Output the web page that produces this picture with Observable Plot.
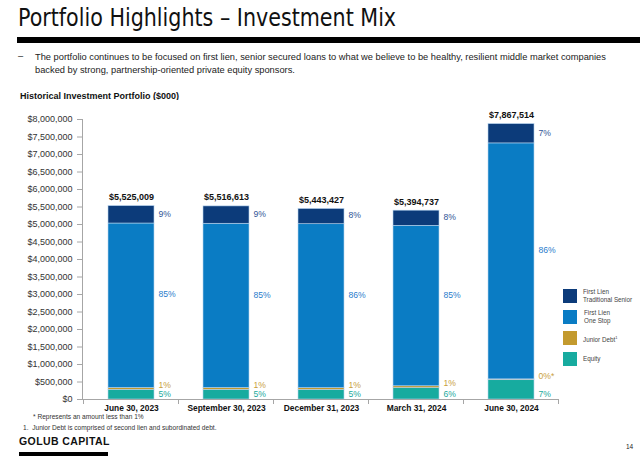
<!DOCTYPE html>
<html><head><meta charset="utf-8">
<script src="https://cdn.jsdelivr.net/npm/d3@7"></script>
<script src="https://cdn.jsdelivr.net/npm/@observablehq/plot@0.6"></script>
<style>
body{margin:0;background:#fff;}
#page{position:relative;width:640px;height:462px;overflow:hidden;font-family:"Liberation Sans",Arial,sans-serif;color:#222;}
.abs{position:absolute;white-space:nowrap;}
#chart{position:absolute;left:0;top:100px;}
.sw{position:absolute;width:14px;height:14px;}
.lg{position:absolute;font-size:6.3px;line-height:8px;color:#444;}
</style></head><body><div id="page">
<div class="abs" style="left:18px;top:2px;font-family:'Liberation Sans Narrow','DejaVu Sans Condensed',sans-serif;font-size:25.5px;color:#111;transform:scaleX(0.9);transform-origin:0 0;">Portfolio Highlights – Investment Mix</div>
<div class="abs" style="left:17px;top:37px;width:623px;height:6px;background:#000"></div>
<div class="abs" style="left:18px;top:51px;font-size:9.3px;color:#222;">–</div>
<div class="abs" style="left:35px;top:51px;font-size:9.3px;line-height:12.5px;color:#222;">The portfolio continues to be focused on first lien, senior secured loans to what we believe to be healthy, resilient middle market companies<br>backed by strong, partnership-oriented private equity sponsors.</div>
<div class="abs" style="left:20px;top:91px;font-size:9px;font-weight:bold;color:#111;">Historical Investment Portfolio ($000)</div>
<div id="chart"></div>
<div class="sw" style="left:563px;top:289px;background:#0c3b7a"></div>
<div class="lg" style="left:583px;top:288px;">First Lien<br>Traditional Senior</div>
<div class="sw" style="left:563px;top:310px;background:#0a7cc4"></div>
<div class="lg" style="left:584px;top:309px;">First Lien<br>One Stop</div>
<div class="sw" style="left:563px;top:331px;background:#c39a2e"></div>
<div class="lg" style="left:583px;top:334px;">Junior Debt<sup style="font-size:4px">1</sup></div>
<div class="sw" style="left:563px;top:352px;background:#17ab9f"></div>
<div class="lg" style="left:583px;top:355px;">Equity</div>
<div class="abs" style="left:33px;top:413px;font-size:6.6px;color:#333;">* Represents an amount less than 1%</div>
<div class="abs" style="left:23px;top:424px;font-size:6.6px;color:#333;">1.&nbsp; Junior Debt is comprised of second lien and subordinated debt.</div>
<div class="abs" style="left:19px;top:435px;font-size:10.5px;font-weight:bold;letter-spacing:0.4px;color:#111;">GOLUB CAPITAL</div>
<div class="abs" style="left:19px;top:452px;width:89px;height:4px;background:#000"></div>
<div class="abs" style="left:626px;top:443px;font-size:6.5px;color:#222;">14</div>
</div>
<script>
const categories = ["June 30, 2023", "September 30, 2023", "December 31, 2023", "March 31, 2024", "June 30, 2024"];
const totals = [5525009, 5516613, 5443427, 5394737, 7867514];
const seriesNames = ["Equity", "Junior Debt", "First Lien One Stop", "First Lien Traditional Senior"];
const seriesColors = ["#17ab9f", "#c39a2e", "#0a7cc4", "#0c3b7a"];
const equity = [276000, 276000, 272000, 324000, 551000];
const juniorDebt = [55000, 55000, 54000, 54000, 24000];
const oneStop = [4697000, 4690000, 4682000, 4585000, 6742000];
const traditional = [497000, 496000, 435000, 432000, 551000];
const equityPct = ["5%", "5%", "5%", "6%", "7%"];
const juniorPct = ["1%", "1%", "1%", "1%", "0%*"];
const oneStopPct = ["85%", "85%", "86%", "85%", "86%"];
const traditionalPct = ["9%", "9%", "8%", "8%", "7%"];
const yTicks = d3.range(0, 8000001, 500000);

const seriesValues = [equity, juniorDebt, oneStop, traditional];
const rows = categories.flatMap((c, i) => seriesNames.map((s, k) => ({cat: c, series: s, value: seriesValues[k][i]})));
const labels = categories.map((c, i) => ({
  cat: c,
  total: totals[i],
  eqY: 0, eqT: equityPct[i],
  jrY: equity[i] + juniorDebt[i], jrT: juniorPct[i],
  osY: equity[i] + juniorDebt[i] + oneStop[i] / 2, osT: oneStopPct[i],
  trY: equity[i] + juniorDebt[i] + oneStop[i] + traditional[i] / 2, trT: traditionalPct[i]
}));

function axisLines(index, scales, values, dims) {
  let x = scales.x;
  if (!x || typeof x.step !== "function") {
    x = d3.scaleBand(categories, [dims.marginLeft, dims.width - dims.marginRight]).paddingInner(0.52).paddingOuter(0.26);
  }
  const half = (x.step() - x.bandwidth()) / 2;
  const bounds = categories.map(c => x(c) - half).concat([x(categories[categories.length - 1]) + x.bandwidth() + half]);
  const y0 = dims.height - dims.marginBottom;
  const g = d3.create("svg:g").attr("stroke", "#a6a6a6").attr("stroke-width", 1);
  g.append("line").attr("x1", dims.marginLeft + 0.5).attr("x2", dims.marginLeft + 0.5).attr("y1", dims.marginTop).attr("y2", y0 + 0.5);
  g.append("line").attr("x1", dims.marginLeft).attr("x2", bounds[bounds.length - 1]).attr("y1", y0 + 0.5).attr("y2", y0 + 0.5);
  for (const b of bounds) g.append("line").attr("x1", b).attr("x2", b).attr("y1", y0).attr("y2", y0 + 5);
  return g.node();
}

const pctFont = {fontSize: 8.6, textAnchor: "start", dx: 27};
const chart = Plot.plot({
  width: 640, height: 320,
  marginTop: 19, marginBottom: 21, marginLeft: 82, marginRight: 80,
  style: {fontFamily: "'Liberation Sans', Arial, sans-serif", background: "white"},
  x: {domain: categories, paddingInner: 0.52, paddingOuter: 0.26, label: null},
  y: {domain: [0, 8000000], label: null},
  color: {domain: seriesNames, range: seriesColors},
  marks: [
    Plot.barY(rows, {x: "cat", y: "value", fill: "series", stroke: "#b5d3ee", strokeWidth: 0.6}),
    Plot.axisY({ticks: yTicks, tickSize: 5, tickPadding: 5, stroke: "#a6a6a6", fill: "#333", fontSize: 9, label: null,
      tickFormat: d => "$" + d3.format(",")(d)}),
    Plot.axisX({tickSize: 0, tickPadding: 6, fontSize: 8.4, fontWeight: "bold", fill: "#111", label: null}),
    axisLines,
    Plot.text(labels, {x: "cat", y: "total", text: d => "$" + d3.format(",")(d.total), dy: -9, fontSize: 9, fontWeight: "bold", fill: "#111"}),
    Plot.text(labels, {x: "cat", y: "trY", text: "trT", fill: "#2f5597", ...pctFont, dy: -1}),
    Plot.text(labels, {x: "cat", y: "osY", text: "osT", fill: "#2a7ccc", ...pctFont, dy: -11}),
    Plot.text(labels, {x: "cat", y: "jrY", text: "jrT", fill: "#c9a040", ...pctFont, dy: -3}),
    Plot.text(labels, {x: "cat", y: "eqY", text: "eqT", fill: "#19a99d", ...pctFont, dy: -5})
  ]
});
document.getElementById("chart").appendChild(chart);
</script>
</body></html>
